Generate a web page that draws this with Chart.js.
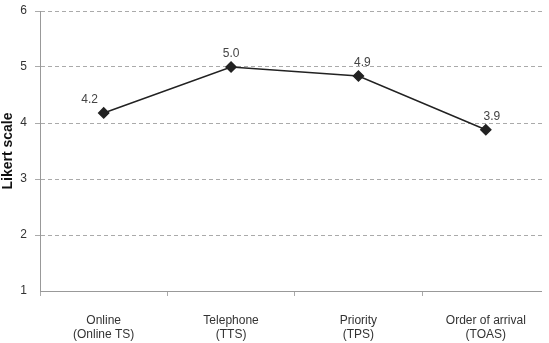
<!DOCTYPE html>
<html><head><meta charset="utf-8">
<script src="https://cdn.jsdelivr.net/npm/chart.js@4/dist/chart.umd.min.js"></script>
<style>html,body{margin:0;padding:0;background:#fff;overflow:hidden}#c{display:block}</style>
</head><body><canvas id="c" width="556" height="343"></canvas>
<script>
const categories = [['Online','(Online TS)'],['Telephone','(TTS)'],['Priority','(TPS)'],['Order of arrival','(TOAS)']];
const values = [4.18, 5.0, 4.84, 3.88];
const valueLabels = ['4.2','5.0','4.9','3.9'];
const yTicks = [1,2,3,4,5,6];

const FONT = '"Liberation Sans", Arial, sans-serif';
const labelOffsets = [-14, 0, 4, 6];

const labelPlugin = {
  id:'pointLabels',
  afterDatasetsDraw(chart){
    const ctx = chart.ctx;
    const meta = chart.getDatasetMeta(0);
    ctx.save();
    ctx.font = '12px ' + FONT;
    ctx.fillStyle = '#444';
    ctx.textAlign = 'center';
    ctx.textBaseline = 'middle';
    meta.data.forEach((p,i)=>{ ctx.fillText(valueLabels[i], p.x + labelOffsets[i], p.y - 13); });
    ctx.restore();
  }
};
const trimPlugin = {
  id:'trimRight',
  afterDraw(chart){
    const ctx = chart.ctx;
    ctx.save();
    ctx.fillStyle = '#fff';
    ctx.fillRect(542, 0, 20, chart.chartArea.bottom + 8);
    ctx.restore();
  }
};

new Chart(document.getElementById('c'), {
  type:'line',
  data:{labels:categories, datasets:[{data:values, borderColor:'#222', borderWidth:1.5, pointStyle:'rectRot', pointRadius:5, pointBackgroundColor:'#222', pointBorderColor:'#222', tension:0}]},
  options:{
    responsive:false, animation:false, devicePixelRatio:1,
    layout:{padding:{top:0,right:1,left:0,bottom:0}},
    plugins:{legend:{display:false}, tooltip:{enabled:false}},
    scales:{
      x:{offset:true,
         afterFit(s){ s.height = 52; s.paddingLeft = 0; s.paddingRight = 0; },
         grid:{offset:true, drawOnChartArea:false, tickLength:5, color:'#aaa'},
         border:{color:'#999', width:1},
         ticks:{font:{family:FONT, size:12}, color:'#333', padding:17, maxRotation:0}},
      y:{min:1,max:6,
         afterBuildTicks(ax){ ax.ticks = yTicks.map(v=>({value:v})); },
         afterFit(s){ s.width = 40; s.paddingTop = 11; s.paddingBottom = 0; },
         grid:{color:(c)=> c.tick && c.tick.value===1 ? 'rgba(0,0,0,0)' : '#aaa', tickLength:5},
         border:{color:'#999', width:1, dash:[4,3]},
         ticks:{font:{family:FONT, size:12}, color:'#333', padding:8},
         title:{display:true, text:'Likert scale', font:{family:FONT, size:14, weight:'bold'}, color:'#111', padding:{top:0,bottom:2}}}
    }
  },
  plugins:[labelPlugin, trimPlugin]
});
</script></body></html>
